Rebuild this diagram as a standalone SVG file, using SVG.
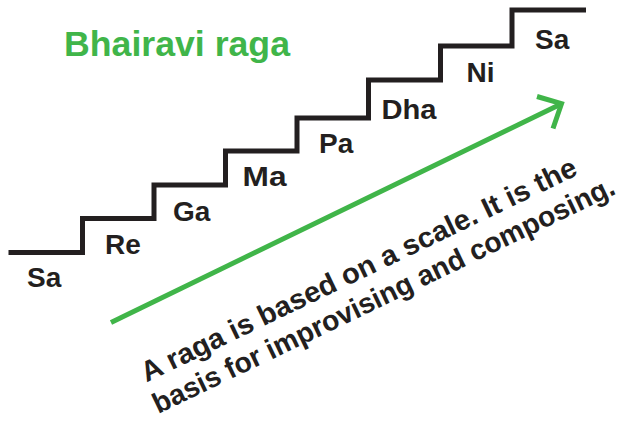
<svg xmlns="http://www.w3.org/2000/svg" width="629" height="425" viewBox="0 0 629 425">
  <style>
    .stair { fill: none; stroke: #231f20; stroke-width: 5; stroke-linejoin: miter; stroke-linecap: butt; }
    .note { font-family: "Liberation Sans", Arial, sans-serif; font-weight: bold; font-size: 28px; fill: #231f20; }
    .title { font-family: "Liberation Sans", Arial, sans-serif; font-weight: bold; font-size: 35px; fill: #40b549; }
    .body { font-family: "Liberation Sans", Arial, sans-serif; font-weight: bold; font-size: 28.5px; fill: #231f20; }
    .arrow { fill: none; stroke: #40b549; stroke-width: 5; stroke-linejoin: miter; stroke-miterlimit: 10; stroke-linecap: butt; }
  </style>
  <rect width="629" height="425" fill="#ffffff"/>
  <g id="title">
    <text class="title" x="64" y="56" textLength="226" lengthAdjust="spacingAndGlyphs">Bhairavi raga</text>
  </g>
  <g id="staircase">
    <path class="stair" d="M8.5 252.5 H82.5 V218.5 H154 V185 H225.5 V151 H297 V118 H368.5 V80 H440.5 V46 H512 V10 H586"/>
  </g>
  <g id="note-sa-low"><text class="note" x="27" y="287">Sa</text></g>
  <g id="note-re"><text class="note" x="105" y="254">Re</text></g>
  <g id="note-ga"><text class="note" x="173" y="221">Ga</text></g>
  <g id="note-ma"><text class="note" x="242.5" y="186" textLength="44" lengthAdjust="spacingAndGlyphs">Ma</text></g>
  <g id="note-pa"><text class="note" x="319" y="153">Pa</text></g>
  <g id="note-dha"><text class="note" x="381.5" y="118.5" textLength="55" lengthAdjust="spacingAndGlyphs">Dha</text></g>
  <g id="note-ni"><text class="note" x="466.5" y="82">Ni</text></g>
  <g id="note-sa-high"><text class="note" x="535" y="48.5">Sa</text></g>
  <g id="connectors">
    <line class="arrow" x1="111" y1="322.5" x2="561.5" y2="103.7"/>
    <polyline class="arrow" points="537,96.5 561.5,103.7 553,128.5"/>
  </g>
  <g id="caption" transform="translate(146.5,382.5) rotate(-25.7)">
    <text class="body" x="0" y="0" textLength="480" lengthAdjust="spacingAndGlyphs">A raga is based on a scale. It is the</text>
    <text class="body" x="-3" y="33.5" textLength="509" lengthAdjust="spacingAndGlyphs">basis for improvising and composing.</text>
  </g>
</svg>
